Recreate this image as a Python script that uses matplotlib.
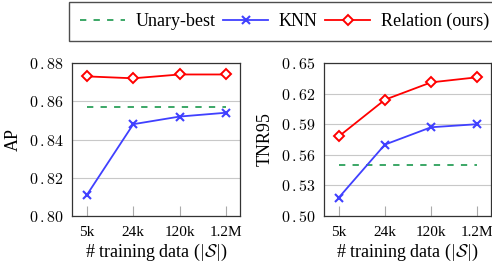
import matplotlib.pyplot as plt
from matplotlib.lines import Line2D

sizes = ['5k', '24k', '120k', '1.2M']
ap_relation = [0.873, 0.872, 0.874, 0.874]
ap_knn = [0.811, 0.848, 0.852, 0.854]
ap_unary = 0.857
tnr_relation = [0.578, 0.614, 0.631, 0.636]
tnr_knn = [0.518, 0.570, 0.587, 0.590]
tnr_unary = 0.550

plt.rcParams['font.family'] = 'Liberation Serif'
plt.rcParams['mathtext.fontset'] = 'cm'

red = '#ff0000'
blue = '#4040ff'
green = '#2ca05a'
dash = (0, (3.5, 4))

fig = plt.figure(figsize=(4.92, 2.67), dpi=100)
ax1 = fig.add_axes([72/492, 1-216/267, 168/492, 153/267])
ax2 = fig.add_axes([324/492, 1-216/267, 167/492, 153/267])

x = list(range(len(sizes)))

def draw(ax, rel, knn, unary, yticks, ylabel):
    ax.plot([0, 3], [unary, unary], color=green, lw=1.3, ls=dash)
    ax.plot(x, knn, color=blue, lw=1.3, marker='x', ms=5.5, mew=1.5)
    ax.plot(x, rel, color=red, lw=1.3, marker='D', ms=5.5, mew=1.4,
            mfc='white')
    ax.set_xlim(-0.32, 3.3)
    ax.set_ylim(yticks[0], yticks[-1])
    ax.set_yticks(yticks)
    labels = []
    for v in yticks:
        a, b = ('%.2f' % v).split('.')
        labels.append(r'$%s\,.%s$' % (a, b))
    ax.set_yticklabels(labels, fontsize=11.5)
    ax.set_xticks(x)
    ax.set_xticklabels(sizes, fontsize=11)
    ax.grid(axis='y', color='#c8c8c8', lw=0.8)
    ax.set_axisbelow(True)
    ax.tick_params(axis='y', length=0, pad=6)
    ax.tick_params(axis='x', direction='in', length=7, color='#aaaaaa',
                   pad=7)
    for s in ax.spines.values():
        s.set_color('#333333')
        s.set_linewidth(0.9)
    ax.set_ylabel(ylabel, fontsize=13, labelpad=5)
    ax.set_xlabel(r'# training data ($|\mathcal{S}|$)', fontsize=13,
                  labelpad=2)

draw(ax1, ap_relation, ap_knn, ap_unary, [0.80, 0.82, 0.84, 0.86, 0.88], 'AP')
draw(ax2, tnr_relation, tnr_knn, tnr_unary,
     [0.50, 0.53, 0.56, 0.59, 0.62, 0.65], 'TNR95')

handles = [
    Line2D([], [], color=green, lw=1.3, ls=dash),
    Line2D([], [], color=blue, lw=1.3, marker='x', ms=5.5, mew=1.5),
    Line2D([], [], color=red, lw=1.3, marker='D', ms=5.5, mew=1.4, mfc='white'),
]
fig.legend(handles, ['Unary-best', 'KNN', 'Relation (ours)'], ncol=3,
           loc='upper left', bbox_to_anchor=(69/492, 1-2/267),
           fontsize=13, frameon=True, fancybox=False, edgecolor='#222222',
           handlelength=2.5, handletextpad=0.6, columnspacing=0.4,
           borderpad=0.6, borderaxespad=0)

fig.savefig('out.png', dpi=100)
